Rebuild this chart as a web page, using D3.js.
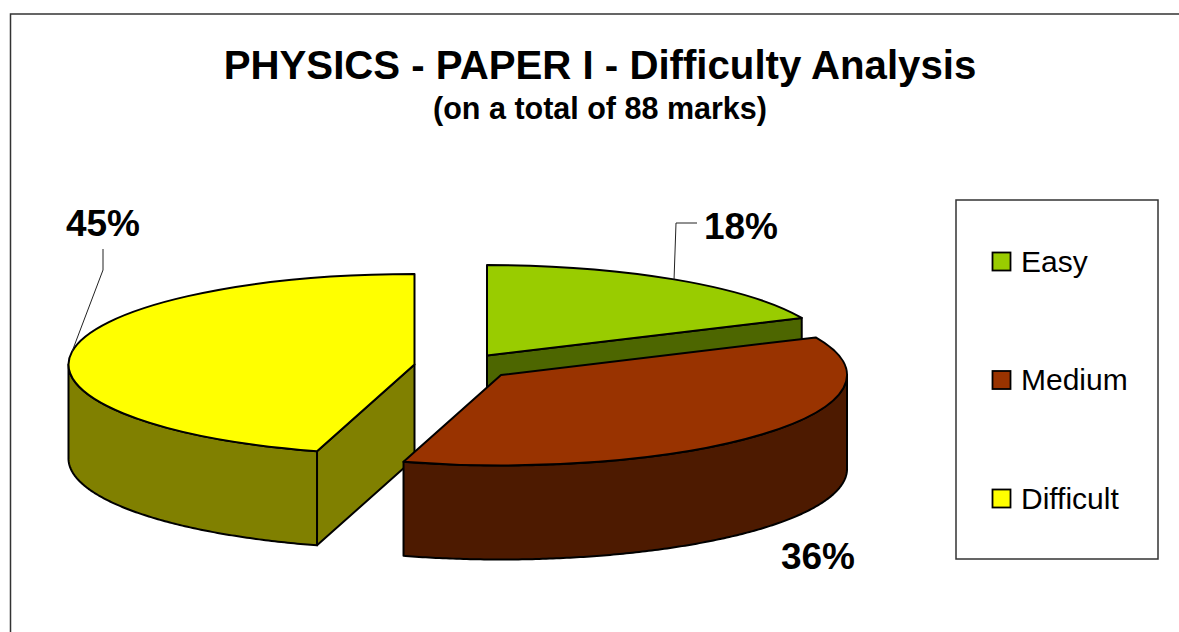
<!DOCTYPE html>
<html>
<head>
<meta charset="utf-8">
<script src="https://cdn.jsdelivr.net/npm/d3@7"></script>
<style>
  html, body { margin: 0; padding: 0; background: #fff; overflow: hidden; }
  svg { display: block; font-family: "Liberation Sans", Arial, sans-serif; }
</style>
</head>
<body>
<svg id="chart" width="1179" height="632"></svg>
<script>
const categories = ["Easy", "Medium", "Difficult"];
const percentages = [18, 36, 45];
const topColors = ["#99cc00", "#993300", "#ffff00"];
const wallColors = ["#4d6600", "#4d1a00", "#808000"];
const chartTitle = "PHYSICS - PAPER I - Difficulty Analysis";
const chartSubtitle = "(on a total of 88 marks)";

// layout of the exploded slices, label anchors and leader bends (pixels)
const rx = 346, ry = 90.5, depth = 94;
const centres = { Easy: [487, 355.5], Medium: [501, 375], Difficult: [414.5, 364.5] };
const labelPos = { Easy: [741, 239], Medium: [818, 569], Difficult: [103, 236] };
const leaderBends = {
  Easy: [[676, 223], [697, 223]],
  Difficult: [[103, 270], [103, 249]]
};

const svg = d3.select("#chart");
const topColor = d3.scaleOrdinal().domain(categories).range(topColors);
const wallColor = d3.scaleOrdinal().domain(categories).range(wallColors);

// chart frame, only top and left edges fall inside the picture
svg.append("path")
  .attr("d", d3.line()([[10.5, 632], [10.5, 14], [1179, 14]]))
  .attr("fill", "none")
  .attr("stroke", "#333")
  .attr("stroke-width", 1.5);

svg.append("text")
  .attr("x", 600).attr("y", 78.5)
  .attr("text-anchor", "middle")
  .attr("font-weight", "bold")
  .attr("font-size", 40.2)
  .text(chartTitle);

svg.append("text")
  .attr("x", 600).attr("y", 119)
  .attr("text-anchor", "middle")
  .attr("font-weight", "bold")
  .attr("font-size", 30.5)
  .text(chartSubtitle);

const pie = d3.pie().sort(null).value((d) => d.value);
const slices = pie(categories.map((name, i) => ({ name, value: percentages[i] })));

// circular arc, squashed into an ellipse for the tilted top
const arc = d3.arc().innerRadius(0).outerRadius(rx);
const rim = (s, a, drop = 0) => {
  const [cx, cy] = centres[s.data.name];
  return [cx + rx * Math.sin(a), cy - ry * Math.cos(a) + drop];
};
const line = d3.line();

// front facing part of the rim runs from 90deg to 270deg
const wallPath = (s) => {
  const a0 = Math.max(s.startAngle, Math.PI / 2);
  const a1 = Math.min(s.endAngle, Math.PI * 1.5);
  if (a1 <= a0) return null;
  const angles = d3.range(a0, a1, 0.01).concat([a1]);
  const upper = angles.map((a) => rim(s, a));
  const lower = angles.slice().reverse().map((a) => rim(s, a, depth));
  return line(upper.concat(lower)) + "Z";
};

const facePath = (s, a) => {
  const [cx, cy] = centres[s.data.name];
  return line([[cx, cy], rim(s, a), rim(s, a, depth), [cx, cy + depth]]) + "Z";
};

const order = slices.slice().sort((a, b) => centres[a.data.name][1] - centres[b.data.name][1]);

const groups = svg.append("g")
  .selectAll("g")
  .data(order)
  .join("g")
  .attr("stroke", "#000")
  .attr("stroke-width", 2)
  .attr("stroke-linejoin", "round");

groups.each(function (s) {
  const g = d3.select(this);
  const [cx, cy] = centres[s.data.name];
  const fill = wallColor(s.data.name);
  if (Math.sin(s.endAngle) > 0.001) g.append("path").attr("d", facePath(s, s.endAngle)).attr("fill", fill);
  if (Math.sin(s.startAngle) < -0.001) g.append("path").attr("d", facePath(s, s.startAngle)).attr("fill", fill);
  const wall = wallPath(s);
  if (wall) g.append("path").attr("d", wall).attr("fill", fill);
  g.append("path")
    .attr("d", arc(s))
    .attr("transform", `translate(${cx},${cy}) scale(1,${ry / rx})`)
    .attr("vector-effect", "non-scaling-stroke")
    .attr("fill", topColor(s.data.name));
});

// leader lines start on the rim at the middle of the slice
svg.append("g")
  .selectAll("path")
  .data(slices.filter((s) => leaderBends[s.data.name]))
  .join("path")
  .attr("d", (s) => line([rim(s, (s.startAngle + s.endAngle) / 2)].concat(leaderBends[s.data.name])))
  .attr("fill", "none")
  .attr("stroke", "#222")
  .attr("stroke-width", 1);

svg.append("g")
  .selectAll("text")
  .data(slices)
  .join("text")
  .attr("x", (s) => labelPos[s.data.name][0])
  .attr("y", (s) => labelPos[s.data.name][1])
  .attr("text-anchor", "middle")
  .attr("font-weight", "bold")
  .attr("font-size", 37)
  .text((s) => s.data.value + "%");

// legend
svg.append("rect")
  .attr("x", 956).attr("y", 200)
  .attr("width", 202).attr("height", 359)
  .attr("fill", "#fff")
  .attr("stroke", "#333")
  .attr("stroke-width", 1.5);

const legendY = d3.scalePoint().domain(categories).range([261.5, 498.5]);

const legend = svg.append("g")
  .selectAll("g")
  .data(categories)
  .join("g")
  .attr("transform", (d) => `translate(992,${legendY(d)})`);

legend.append("rect")
  .attr("x", 0.5).attr("y", -9)
  .attr("width", 18).attr("height", 18)
  .attr("fill", (d) => topColor(d))
  .attr("stroke", "#000")
  .attr("stroke-width", 1.8);

legend.append("text")
  .attr("x", 29).attr("y", 10)
  .attr("font-size", 30)
  .text((d) => d);
</script>
</body>
</html>
